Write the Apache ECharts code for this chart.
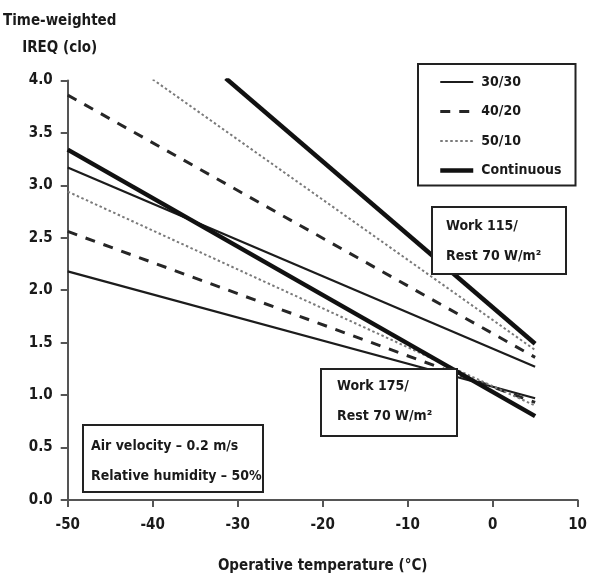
<!DOCTYPE html>
<html>
<head>
<meta charset="utf-8">
<script src="https://cdn.jsdelivr.net/npm/echarts/dist/echarts.min.js"></script>
<style>
html,body{margin:0;padding:0;background:#fff;}
#chart{width:590px;height:579px;}
</style>
</head>
<body>
<div id="chart"></div>
<script>
// ---- Data ----
const regimeNames = ['30/30', '40/20', '50/10', 'Continuous'];
const xTicks = [-50, -40, -30, -20, -10, 0, 10];
const yTicks = [0.0, 0.5, 1.0, 1.5, 2.0, 2.5, 3.0, 3.5, 4.0];

// Work 115 / Rest 70 W/m2  [operative temperature °C, IREQ clo]
const work115_3030 = [[-50, 3.17], [5, 1.27]];
const work115_4020 = [[-50, 3.86], [5, 1.36]];
const work115_5010 = [[-40, 4.01], [5, 1.43]];
const work115_cont = [[-31.4, 4.02], [5, 1.49]];

// Work 175 / Rest 70 W/m2
const work175_3030 = [[-50, 2.18], [5, 0.97]];
const work175_4020 = [[-50, 2.56], [5, 0.93]];
const work175_5010 = [[-50, 2.94], [5, 0.90]];
const work175_cont = [[-50, 3.34], [5, 0.80]];

const annotation115 = ['Work 115/', 'Rest 70 W/m²'];
const annotation175 = ['Work 175/', 'Rest 70 W/m²'];
const conditions = ['Air velocity – 0.2 m/s', 'Relative humidity – 50%'];

// ---- Styles ----
const FONT = "'DejaVu Sans Condensed', 'Liberation Sans Narrow', sans-serif";
const styles = {
  '30/30': {color: '#1c1c1c', width: 2.2, type: 'solid'},
  '40/20': {color: '#262626', width: 3, type: [10, 9]},
  '50/10': {color: '#7a7a7a', width: 2, type: [2.5, 2.5]},
  'Continuous': {color: '#111111', width: 4.5, type: 'solid'}
};

function mk(name, data) {
  const s = styles[name];
  return {
    name: name, type: 'line', data: data, symbol: 'none', showSymbol: false, silent: true,
    lineStyle: {color: s.color, width: s.width, type: s.type},
    itemStyle: {color: s.color},
    z: 2
  };
}

const series = [
  mk('30/30', work115_3030), mk('40/20', work115_4020), mk('50/10', work115_5010), mk('Continuous', work115_cont),
  mk('30/30', work175_3030), mk('40/20', work175_4020), mk('50/10', work175_5010), mk('Continuous', work175_cont)
];

function box(x, y, w, h, lines, tx, ty) {
  const els = [{
    type: 'rect', z: 100,
    shape: {x: x, y: y, width: w, height: h},
    style: {fill: '#fff', stroke: '#222', lineWidth: 2}
  }];
  lines.forEach((t, i) => {
    els.push({
      type: 'text', z: 101, x: x + tx, y: y + ty + i * 30,
      style: {text: t, font: 'bold 14px ' + FONT, fill: '#1a1a1a', verticalAlign: 'middle', align: 'left'}
    });
  });
  return els;
}

const chart = echarts.init(document.getElementById('chart'));
chart.setOption({
  animation: false,
  backgroundColor: '#fff',
  grid: {left: 66.7, right: 5, top: 80.4, bottom: 77.3, containLabel: false},
  legend: {
    orient: 'vertical', left: 418, top: 64,
    padding: [11, 14, 8, 20],
    itemWidth: 33, itemHeight: 14, itemGap: 15.5,
    borderColor: '#222', borderWidth: 2, backgroundColor: '#fff',
    textStyle: {fontFamily: FONT, fontWeight: 'bold', fontSize: 14, color: '#1a1a1a', padding: [0, 0, 0, 3]},
    data: regimeNames.map(n => ({
      name: n,
      itemStyle: {opacity: 0, borderWidth: 0},
      lineStyle: {width: styles[n].width, type: styles[n].type, color: styles[n].color, opacity: 1}
    })),
    selectedMode: false
  },
  xAxis: {
    type: 'value', min: xTicks[0], max: xTicks[xTicks.length - 1], interval: 10,
    name: 'Operative temperature (°C)', nameLocation: 'middle', nameGap: 59,
    nameTextStyle: {fontFamily: FONT, fontWeight: 'bold', fontSize: 15, color: '#1a1a1a'},
    axisLine: {onZero: false, lineStyle: {color: '#555', width: 2}},
    axisTick: {length: 7, lineStyle: {color: '#555', width: 2}},
    axisLabel: {margin: 18, fontFamily: FONT, fontWeight: 'bold', fontSize: 15, color: '#1a1a1a'},
    splitLine: {show: false}
  },
  yAxis: {
    type: 'value', min: yTicks[0], max: yTicks[yTicks.length - 1], interval: 0.5,
    name: 'Time-weighted\nIREQ (clo)', nameLocation: 'end', nameGap: 19,
    nameTextStyle: {fontFamily: FONT, fontWeight: 'bold', fontSize: 15, color: '#1a1a1a',
      align: 'center', lineHeight: 27, padding: [0, 16, 0, 0]},
    axisLine: {onZero: false, lineStyle: {color: '#555', width: 2}},
    axisTick: {length: 7, lineStyle: {color: '#555', width: 2}},
    axisLabel: {margin: 15, fontFamily: FONT, fontWeight: 'bold', fontSize: 15, color: '#1a1a1a',
      formatter: v => v.toFixed(1)},
    splitLine: {show: false}
  },
  series: series,
  graphic: [].concat(
    box(432, 207, 134, 67, annotation115, 14, 19),
    box(321, 369, 136, 67, annotation175, 16, 17),
    box(83, 425, 180, 67, conditions, 8, 21.5)
  )
});
</script>
</body>
</html>
